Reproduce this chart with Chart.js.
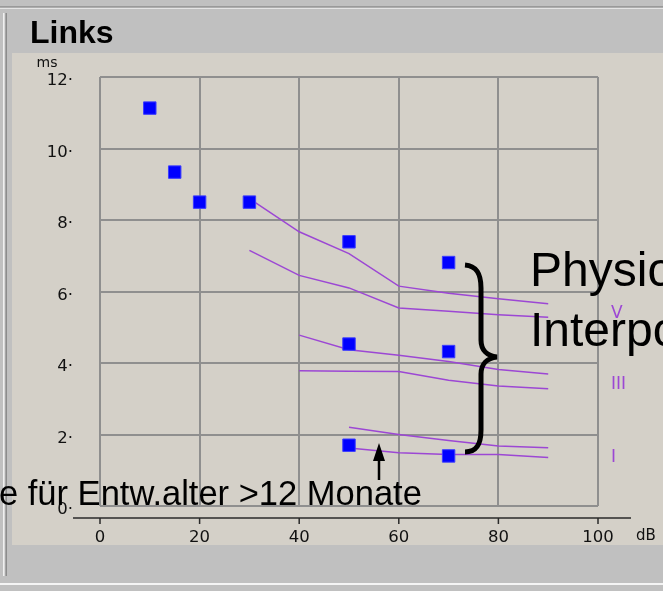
<!DOCTYPE html>
<html>
<head>
<meta charset="utf-8">
<script src="https://cdn.jsdelivr.net/npm/chart.js@4/dist/chart.umd.min.js"></script>
<style>
  html, body { margin: 0; padding: 0; background: #c0c0c0; overflow: hidden; }
  #wrap { width: 663px; height: 591px; }
</style>
</head>
<body>
<div id="wrap"><canvas id="bera"></canvas></div>
<script>
/* ── Data: stimulus level (dB) vs. latency (ms) ── */
const xTicks = [0, 20, 40, 60, 80, 100];
const yTicks = [0, 2, 4, 6, 8, 10, 12];

/* measured peaks (blue squares) */
const measDb = [10, 15, 20, 30, 50, 70, 50, 70, 50, 70];
const measMs = [11.13, 9.34, 8.5, 8.5, 7.39, 6.81, 4.53, 4.32, 1.7, 1.4];

/* normal range, wave V */
const vDb      = [30, 40, 50, 60, 70, 80, 90];
const vUpperMs = [8.6, 7.67, 7.06, 6.15, 5.95, 5.8, 5.66];
const vLowerMs = [7.15, 6.45, 6.1, 5.54, 5.45, 5.35, 5.28];

/* normal range, wave III */
const iiiDb      = [40, 50, 60, 70, 80, 90];
const iiiUpperMs = [4.78, 4.37, 4.22, 4.04, 3.82, 3.69];
const iiiLowerMs = [3.78, 3.77, 3.76, 3.52, 3.36, 3.28];

/* normal range, wave I */
const iDb      = [50, 60, 70, 80, 90];
const iUpperMs = [2.2, 2.0, 1.83, 1.68, 1.63];
const iLowerMs = [1.62, 1.49, 1.44, 1.44, 1.36];

const waveNames = ['V', 'III', 'I'];

/* ── Styling ── */
const PURPLE = '#9c47d4';
const GRID   = '#8f8f8f';
const INK    = '#000000';
const LABEL  = '#111111';
const TICK_FONT = { family: 'DejaVu Sans', size: 16.5 };

const pts = (db, ms) => db.map((x, i) => ({ x, y: ms[i] }));
const band = (db, ms) => ({
  data: pts(db, ms), showLine: true, borderColor: PURPLE, borderWidth: 1.5,
  pointRadius: 0, tension: 0, fill: false, order: 2,
});

/* window frame, title and the slide annotations */
const frame = {
  id: 'frame',
  beforeDraw(chart) {
    const c = chart.ctx;
    c.save();
    c.fillStyle = '#c0c0c0'; c.fillRect(0, 0, 663, 591);
    c.fillStyle = '#9a9a9a'; c.fillRect(0, 6, 663, 1.5);
    c.fillStyle = '#e4e4e4'; c.fillRect(0, 8, 663, 1);
    c.fillStyle = '#f0f0f0'; c.fillRect(3, 13, 1.5, 563);
    c.fillStyle = '#8c8c8c'; c.fillRect(5.5, 13, 1.5, 563);
    c.fillStyle = '#d4d0c8'; c.fillRect(12, 53, 651, 492);
    c.fillStyle = '#f4f4f4'; c.fillRect(0, 583, 663, 2);
    c.fillStyle = INK;
    c.font = 'bold 32px "Liberation Sans", Arial';
    c.textBaseline = 'alphabetic';
    c.fillText('Links', 30, 43);
    c.restore();
  },
  afterDraw(chart) {
    const c = chart.ctx, xs = chart.scales.x;
    c.save();

    /* separate x axis rule with tick marks */
    c.strokeStyle = '#2a2a2a'; c.lineWidth = 1.5;
    c.beginPath();
    c.moveTo(73, 518); c.lineTo(631, 518);
    xTicks.forEach(v => { const px = xs.getPixelForValue(v); c.moveTo(px, 518); c.lineTo(px, 524); });
    c.stroke();

    /* units */
    c.fillStyle = LABEL;
    c.font = '14px "DejaVu Sans"'; c.textAlign = 'center'; c.textBaseline = 'alphabetic';
    c.fillText('ms', 47, 67);
    c.font = '15px "DejaVu Sans"'; c.textAlign = 'left'; c.textBaseline = 'middle';
    c.fillText('dB', 636, 536);

    /* wave names */
    c.fillStyle = PURPLE; c.font = '17px "DejaVu Sans"';
    [314, 385, 458].forEach((y, i) => c.fillText(waveNames[i], 611, y));

    /* curly brace */
    c.strokeStyle = INK; c.lineWidth = 5;
    c.beginPath();
    c.moveTo(465, 265);
    c.bezierCurveTo(477, 266, 481, 274, 481, 288);
    c.lineTo(481, 340);
    c.bezierCurveTo(481, 350, 487, 356, 497, 357);
    c.bezierCurveTo(487, 358, 481, 364, 481, 374);
    c.lineTo(481, 430);
    c.bezierCurveTo(481, 444, 477, 452, 465, 452);
    c.stroke();

    /* arrow */
    c.lineWidth = 2.5;
    c.beginPath(); c.moveTo(379, 480); c.lineTo(379, 458); c.stroke();
    c.fillStyle = INK;
    c.beginPath(); c.moveTo(379, 443); c.lineTo(373, 461); c.lineTo(385, 461); c.closePath(); c.fill();

    /* slide text */
    c.textAlign = 'left'; c.textBaseline = 'alphabetic';
    c.font = '48px "Liberation Sans", Arial';
    c.fillText('Physiologische', 530, 286);
    c.fillText('Interpolation', 530, 346);
    c.font = '34.5px "Liberation Sans", Arial';
    const lead = c.measureText('Normwert').width;
    c.fillText('Normwerte für Entw.alter >12 Monate', -lead - 1, 505);

    c.restore();
  },
};

new Chart(document.getElementById('bera'), {
  type: 'scatter',
  data: {
    datasets: [
      {
        data: pts(measDb, measMs), pointStyle: 'rect', pointRadius: 8.8,
        backgroundColor: '#0000ff', borderColor: '#3c3cff', borderWidth: 1, order: 1,
      },
      band(vDb, vUpperMs),
      band(vDb, vLowerMs),
      band(iiiDb, iiiUpperMs),
      band(iiiDb, iiiLowerMs),
      band(iDb, iUpperMs),
      band(iDb, iLowerMs),
    ],
  },
  options: {
    responsive: true,
    maintainAspectRatio: false,
    animation: false,
    layout: { padding: { top: 77, right: 65, left: 0, bottom: 0 } },
    plugins: { legend: { display: false }, tooltip: { enabled: false } },
    scales: {
      x: {
        type: 'linear', min: 0, max: 100,
        afterBuildTicks: s => { s.ticks = xTicks.map(value => ({ value })); },
        afterFit: s => { s.height = 85; },
        grid: { color: GRID, lineWidth: 2, drawTicks: false },
        border: { display: false },
        ticks: { color: LABEL, font: TICK_FONT, padding: 22, maxRotation: 0, autoSkip: false },
      },
      y: {
        type: 'linear', min: 0, max: 12,
        afterBuildTicks: s => { s.ticks = yTicks.map(value => ({ value })); },
        afterFit: s => { s.width = 100; },
        grid: { color: GRID, lineWidth: 2, drawTicks: false },
        border: { display: false },
        ticks: { color: LABEL, font: TICK_FONT, padding: 27, labelOffset: 4, callback: v => v + '·' },
      },
    },
  },
  plugins: [frame],
});
</script>
</body>
</html>
